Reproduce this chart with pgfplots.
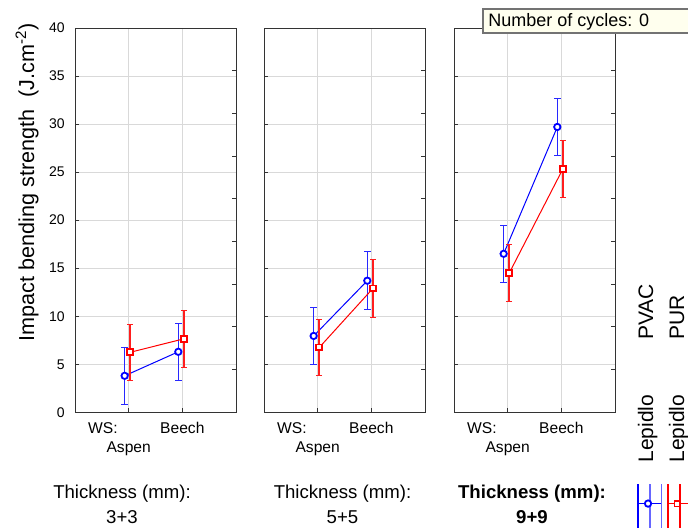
\documentclass[border=0pt]{standalone}
\usepackage{fontspec}
\setmainfont{Liberation Sans}
\usepackage{pgfplots}
\pgfplotsset{compat=1.18}

\definecolor{gridgray}{RGB}{217,217,217}
\definecolor{boxfill}{RGB}{255,255,238}
\definecolor{errblue}{RGB}{40,40,255}
\definecolor{errred}{RGB}{255,30,30}

\pgfplotsset{
  panel/.style={
    scale only axis, width=80.5pt, height=192.15pt,
    anchor=south west,
    xmin=0, xmax=3, ymin=0, ymax=40,
    xtick={1,2}, ytick={0,5,...,40},
    xtick pos=bottom, ytick pos=left, tick align=inside,
    xmajorgrids, ymajorgrids,
    grid style={gridgray, line width=0.5pt},
    axis line style={black!80, line width=0.5pt},
    major tick style={black!80, line width=0.5pt},
    major tick length=2pt,
    xticklabels={{\llap{WS:\kern5.5pt}\\Aspen},{Beech}},
    xticklabel style={font=\fontsize{7.8}{9.5}\selectfont, align=center, inner sep=0pt, yshift=-4.8pt},
    yticklabel style={font=\fontsize{7}{8}\selectfont, inner sep=0pt, xshift=-5pt},
    /pgf/number format/assume math mode=true,
  },
  % right-hand axis of every panel: 0..45 in steps of 5, no labels
  rightaxis/.style={
    scale only axis, width=80.5pt, height=192.15pt,
    anchor=south west,
    xmin=0, xmax=3, ymin=0, ymax=45,
    ytick={0,5,...,45}, yticklabels={},
    hide x axis, axis y line*=right, tick align=inside,
    axis line style={black!80, line width=0.5pt},
    major tick style={black!80, line width=0.5pt},
    major tick length=2pt,
  },
  pvac/.style={color=blue, line width=0.5pt, forget plot,
    mark=*, mark size=1.6pt, mark options={draw=blue, fill=white, line width=0.9pt, solid},
    error bars/y dir=both, error bars/y explicit,
    error bars/error bar style={color=errblue, line width=0.8pt, solid}},
  pur/.style={color=red, line width=0.5pt, forget plot,
    mark=square*, mark size=1.45pt, mark options={draw=red, fill=white, line width=0.9pt, solid},
    error bars/y dir=both, error bars/y explicit,
    error bars/error bar style={color=errred, line width=0.8pt, solid}},
}

\begin{document}
\begin{tikzpicture}

% Thickness 3+3
\begin{axis}[panel, at={(37.5pt,-206.15pt)}]
\addplot[pvac] coordinates {(0.925,3.8) +- (0,2.95) (1.925,6.3) +- (0,3.0)};
\addplot[pur] coordinates {(1.03,6.25) +- (0,2.95) (2.03,7.65) +- (0,3.0)};
\end{axis}
\begin{axis}[rightaxis, at={(37.5pt,-206.15pt)}]
\end{axis}

% Thickness 5+5
\begin{axis}[panel, at={(132pt,-206.15pt)}, yticklabels={}]
\addplot[pvac] coordinates {(0.925,7.95) +- (0,3.0) (1.925,13.7) +- (0,3.0)};
\addplot[pur] coordinates {(1.03,6.75) +- (0,2.95) (2.03,12.9) +- (0,3.0)};
\end{axis}
\begin{axis}[rightaxis, at={(132pt,-206.15pt)}]
\end{axis}

% Thickness 9+9
\begin{axis}[panel, at={(227pt,-206.15pt)}, yticklabels={},
  legend style={at={(1.1385,-0.3193)}, anchor=south west, draw=none, fill=none,
    inner sep=0pt, outer sep=0pt, nodes={inner sep=0pt, outer sep=0pt}}]
\addplot[pvac] coordinates {(0.925,16.5) +- (0,3.0) (1.925,29.7) +- (0,3.0)};
\addplot[pur] coordinates {(1.03,14.5) +- (0,3.0) (2.03,25.35) +- (0,3.0)};
\addlegendimage{legend image code/.code={
  \draw[blue, line width=0.75pt] (0pt,9.65pt) -- (0pt,-15.35pt);
  \draw[blue!60, line width=0.75pt] (5.85pt,9.65pt) -- (5.85pt,-15.35pt);
  \draw[blue!60, line width=0.75pt] (11.7pt,9.65pt) -- (11.7pt,-15.35pt);
  \draw[blue, line width=0.75pt] (0pt,0pt) -- (11.7pt,0pt);
  \draw[blue, line width=0.9pt, fill=white] (5pt,0pt) circle (1.6pt);
  \draw[red, line width=0.75pt] (15pt,9.65pt) -- (15pt,-15.35pt);
  \draw[red, line width=0.75pt] (20.85pt,9.65pt) -- (20.85pt,-15.35pt);
  \draw[red, line width=0.75pt] (15pt,0pt) -- (27pt,0pt);
  \draw[red, line width=0.9pt, fill=white] (18.25pt,-1.45pt) rectangle (21.15pt,1.45pt);
}}
\addlegendentry{}
\end{axis}
\begin{axis}[rightaxis, at={(227pt,-206.15pt)}]
\end{axis}

% y axis title
\node[rotate=90, font=\fontsize{10.8}{12}\selectfont] at (13.5pt,-91pt)
  {Impact bending strength\ \ (J.cm\textsuperscript{-2})};

% panel titles below
\begin{scope}[every node/.style={font=\fontsize{9.3}{11}\selectfont, anchor=base, inner sep=0pt}]
\node at (61pt,-249pt) {Thickness (mm):};
\node at (61pt,-261.5pt) {3+3};
\node at (171.25pt,-249pt) {Thickness (mm):};
\node at (171.25pt,-261.5pt) {5+5};
\node at (266pt,-249pt) {\bfseries Thickness (mm):};
\node at (266pt,-261.5pt) {\bfseries 9+9};
\end{scope}

% legend texts (rotated)
\begin{scope}[every node/.style={rotate=90, anchor=base west, inner sep=0pt, font=\fontsize{10.5}{12}\selectfont}]
\node at (326.5pt,-231.5pt) {Lepidlo};
\node at (342pt,-231.5pt) {Lepidlo};
\node at (326.5pt,-170pt) {PVAC};
\node at (342pt,-170pt) {PUR};
\end{scope}

% box at the top
\filldraw[draw=black!55, fill=boxfill, line width=0.6pt] (241.5pt,-4.5pt) rectangle (352pt,-16.5pt);
\node[anchor=mid west, inner sep=0pt, font=\fontsize{9}{10}\selectfont] at (244pt,-10.5pt) {Number of cycles: 0};

\pgfresetboundingbox
\useasboundingbox (0pt,0pt) rectangle (344pt,-263.5pt);
\end{tikzpicture}
\end{document}
